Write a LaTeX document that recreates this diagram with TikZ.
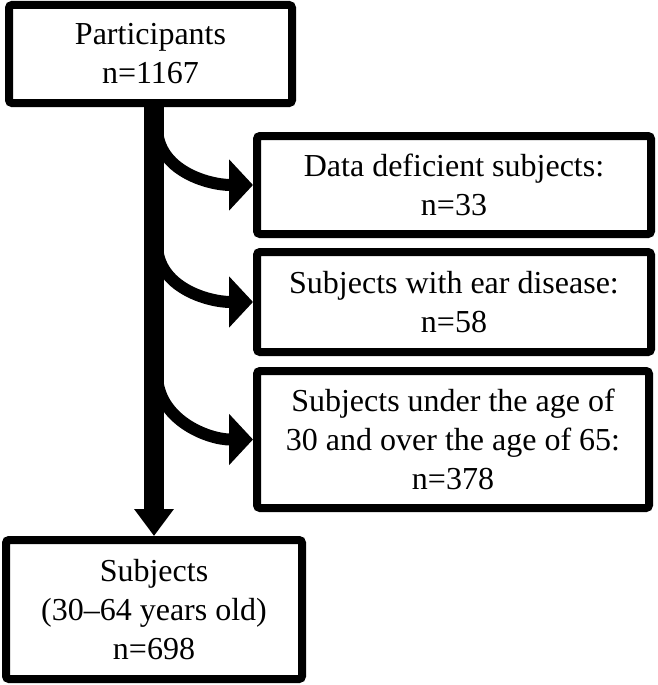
\documentclass[tikz,border=0pt]{standalone}
\usepackage{fontspec}
\setmainfont{Liberation Serif}
\usetikzlibrary{arrows.meta}
\begin{document}
\begin{tikzpicture}[x=1pt,y=1pt,
 box/.style={draw, line width=8pt, rounded corners=3pt, align=center, inner sep=0pt, fill=white,
   font=\fontsize{32}{39}\selectfont},
 shaft/.style={line width=20pt, -{Triangle[width=38pt,length=27pt]}},
 branch/.style={line width=12pt, -{Triangle[width=50pt,length=24pt]}}]
\useasboundingbox (0,0) rectangle (657,-685);
\node[box, minimum width=283pt, minimum height=98pt] (top) at (150.5,-54) {Participants\\n=1167};
\node[box, minimum width=394pt, minimum height=98pt] (d1) at (454,-185) {Data deficient subjects:\\n=33};
\node[box, minimum width=394pt, minimum height=100pt] (d2) at (454,-302) {Subjects with ear disease:\\n=58};
\node[box, minimum width=392pt, minimum height=137pt] (d3) at (453,-439.5) {Subjects under the age of\\30 and over the age of 65:\\n=378};
\node[box, minimum width=296pt, minimum height=139pt] (bot) at (154,-609.5) {Subjects\\(30–64 years old)\\n=698};
\coordinate (b1) at (157,-127);
\coordinate (b2) at (157,-244);
\coordinate (b3) at (157,-374);
\draw[shaft] (top.south -| bot.north) -- (bot.north);
\draw[branch] (b1) to[out=-90,in=180] (d1.west);
\draw[branch] (b2) to[out=-90,in=180] (d2.west);
\draw[branch] (b3) to[out=-90,in=180] (d3.west);
\end{tikzpicture}
\end{document}
